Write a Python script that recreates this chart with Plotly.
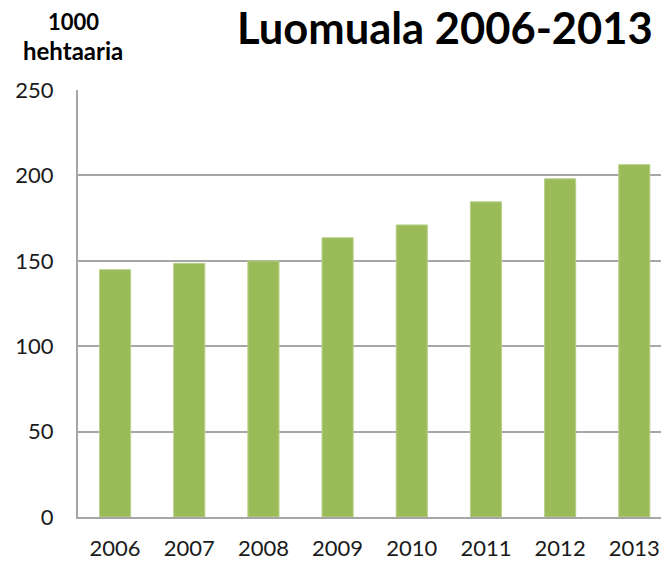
import plotly.graph_objects as go

years = ["2006", "2007", "2008", "2009", "2010", "2011", "2012", "2013"]
area = [144.8, 148.5, 149.9, 163.5, 171.0, 184.5, 198.0, 206.3]
y_ticks = [0, 50, 100, 150, 200, 250]

FONT = "Lato, Carlito, Calibri, sans-serif"
PLOT_TOP = 90
PLOT_BOTTOM = 45
HEIGHT = 562
PLOT_H = HEIGHT - PLOT_TOP - PLOT_BOTTOM


def paper_y(px):
    # pixel row from top of page -> paper coordinate
    return (HEIGHT - PLOT_BOTTOM - px) / PLOT_H


fig = go.Figure(
    go.Bar(
        x=list(range(len(years))),
        y=area,
        width=0.42,
        marker=dict(color="#9BBB59", line=dict(color="#B9D08C", width=1)),
    )
)

fig.update_layout(
    width=661,
    height=HEIGHT,
    paper_bgcolor="white",
    plot_bgcolor="white",
    showlegend=False,
    margin=dict(l=78, r=0, t=PLOT_TOP, b=PLOT_BOTTOM),
    font=dict(family=FONT, color="#1a1a1a"),
)

fig.update_xaxes(
    range=[-0.5, 7.36],
    tickmode="array",
    tickvals=list(range(len(years))),
    ticktext=years,
    tickfont=dict(size=22),
    showline=True,
    linecolor="#a6a6a6",
    linewidth=2,
    showgrid=False,
    ticks="",
    ticklabelstandoff=11,
)

fig.update_yaxes(
    range=[0, 250],
    tickvals=y_ticks,
    tickfont=dict(size=22),
    showline=True,
    linecolor="#a6a6a6",
    linewidth=2,
    gridcolor="#a6a6a6",
    gridwidth=2,
    zeroline=False,
    ticks="",
    ticklabelstandoff=18,
)

fig.add_annotation(
    text="<b>Luomuala 2006-2013</b>",
    xref="paper", yref="paper",
    x=1, y=paper_y(27), xanchor="right", yanchor="middle",
    xshift=-6,
    showarrow=False,
    font=dict(size=43.5, color="black"),
)
fig.add_annotation(
    text="<b>1000</b>",
    xref="paper", yref="paper",
    x=0, y=paper_y(21), xanchor="center", yanchor="middle",
    xshift=-5,
    showarrow=False,
    font=dict(size=22, color="black"),
)
fig.add_annotation(
    text="<b>hehtaaria</b>",
    xref="paper", yref="paper",
    x=0, y=paper_y(51), xanchor="center", yanchor="middle",
    xshift=-5,
    showarrow=False,
    font=dict(size=24, color="black"),
)

# drop the default page margin so the figure sits at the window's corner
fig.write_html(
    "out.html",
    config={"displayModeBar": False},
    post_script="document.body.style.margin='0';document.body.style.overflow='hidden';",
)
